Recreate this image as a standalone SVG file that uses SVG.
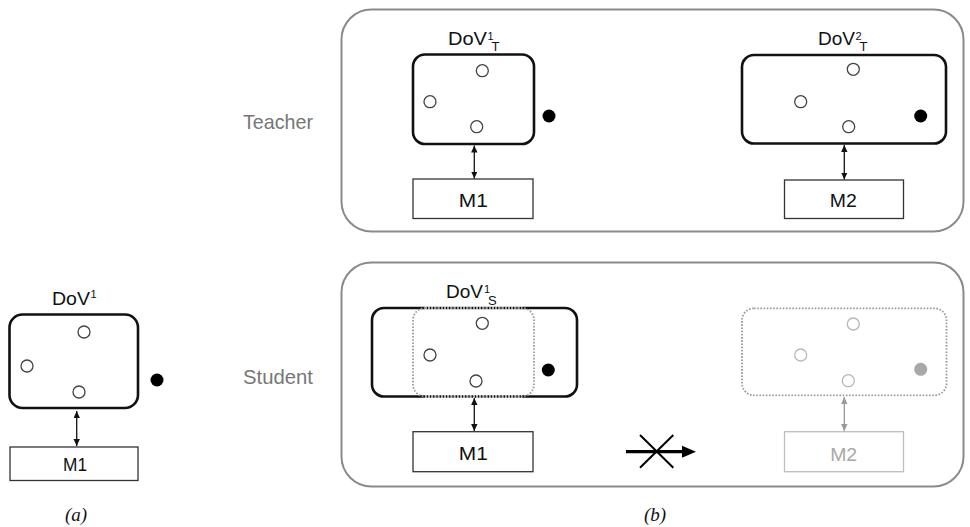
<svg xmlns="http://www.w3.org/2000/svg" width="970" height="527" viewBox="0 0 970 527">
<style>
.bg{fill:#fff}
.outer{fill:none;stroke:#8a8a8a;stroke-width:2}
.dov{fill:none;stroke:#111;stroke-width:2.6}
.gap{fill:none;stroke:#fff;stroke-width:3.2;stroke-dasharray:1.6 1.6}
.dotted{fill:none;stroke:#9a9a9a;stroke-width:1.8;stroke-dasharray:1.6 1.6}
.mbox{fill:#fff;stroke:#333;stroke-width:1.3}
.mbox-g{fill:#fff;stroke:#bdbdbd;stroke-width:1.3}
.pt{fill:#fff;stroke:#444;stroke-width:1.3}
.pt-g{fill:#fff;stroke:#b8b8b8;stroke-width:1.3}
.dot{fill:#000}
.dot-g{fill:#a8a8a8}
.lbl{font-family:"Liberation Sans",Arial,sans-serif;font-size:19px;fill:#111}
.lbl-g{font-family:"Liberation Sans",Arial,sans-serif;font-size:19px;fill:#a8a8a8}
.side{font-family:"Liberation Sans",Arial,sans-serif;font-size:21px;fill:#777}
.cap{font-family:"Liberation Serif","Times New Roman",serif;font-style:italic;font-size:19px;fill:#111}
.conn{stroke:#111;stroke-width:1.3;fill:none}
.conn-g{stroke:#999;stroke-width:1.3;fill:none}
</style>
<defs>
<marker id="ah" markerUnits="userSpaceOnUse" markerWidth="8" markerHeight="7" refX="7" refY="3.2" orient="auto-start-reverse">
<path d="M0,0 L7,3.2 L0,6.4 z" fill="#111"/>
</marker>
<marker id="ah-g" markerUnits="userSpaceOnUse" markerWidth="8" markerHeight="7" refX="7" refY="3.2" orient="auto-start-reverse">
<path d="M0,0 L7,3.2 L0,6.4 z" fill="#999"/>
</marker>
</defs>
<rect class="bg" x="0" y="0" width="970" height="527"/>

<!-- (a) -->
<g id="a-dov1">
<rect class="dov" x="9.5" y="314.5" width="128.5" height="93.5" rx="13"/>
<text class="lbl"><tspan x="52" y="305" textLength="38" lengthAdjust="spacingAndGlyphs">DoV</tspan><tspan x="90.5" y="298" font-size="11">1</tspan></text>
<circle class="pt" cx="84" cy="332" r="6"/>
<circle class="pt" cx="27" cy="366" r="6"/>
<circle class="pt" cx="79" cy="392" r="6"/>
<circle class="dot" cx="157" cy="380" r="6.5"/>
</g>
<g id="a-m1">
<rect class="mbox" x="10" y="447" width="128" height="33.5"/>
<text class="lbl" x="75" y="471" text-anchor="middle" textLength="24" lengthAdjust="spacingAndGlyphs">M1</text>
</g>
<text class="cap" x="76" y="521" text-anchor="middle">(a)</text>

<!-- (b) Teacher -->
<g id="teacher">
<rect class="outer" x="341.5" y="9.5" width="622" height="222" rx="30"/>
<text class="side" x="243" y="129" textLength="70" lengthAdjust="spacingAndGlyphs">Teacher</text>
</g>
<g id="t-dov1">
<rect class="dov" x="413" y="54.5" width="121" height="89.5" rx="12"/>
<text class="lbl"><tspan x="448" y="44.5" textLength="39" lengthAdjust="spacingAndGlyphs">DoV</tspan><tspan x="487.5" y="39.5" font-size="11">1</tspan><tspan x="491.5" y="50.5" font-size="13">T</tspan></text>
<circle class="pt" cx="482.3" cy="70.7" r="6"/>
<circle class="pt" cx="430" cy="101.7" r="6"/>
<circle class="pt" cx="476.7" cy="126.7" r="6"/>
<circle class="dot" cx="549" cy="116" r="6.5"/>
</g>
<g id="t-m1">
<rect class="mbox" x="413" y="179" width="120" height="39.5"/>
<text class="lbl" x="473.3" y="206.7" text-anchor="middle" textLength="29" lengthAdjust="spacingAndGlyphs">M1</text>
</g>
<g id="t-dov2">
<rect class="dov" x="742" y="55" width="204" height="88.5" rx="12"/>
<text class="lbl"><tspan x="818" y="44.5" textLength="37" lengthAdjust="spacingAndGlyphs">DoV</tspan><tspan x="855.5" y="39.5" font-size="11">2</tspan><tspan x="859.5" y="50.5" font-size="13">T</tspan></text>
<circle class="pt" cx="853.3" cy="69.3" r="6"/>
<circle class="pt" cx="800.7" cy="101.7" r="6"/>
<circle class="pt" cx="848.7" cy="126.7" r="6"/>
<circle class="dot" cx="920.7" cy="116" r="6.5"/>
</g>
<g id="t-m2">
<rect class="mbox" x="784.5" y="180" width="119" height="38.5"/>
<text class="lbl" x="843.3" y="206.7" text-anchor="middle" textLength="27" lengthAdjust="spacingAndGlyphs">M2</text>
</g>

<!-- (b) Student -->
<g id="student">
<rect class="outer" x="341.5" y="262.5" width="622" height="224" rx="30"/>
<text class="side" x="243" y="384" textLength="70" lengthAdjust="spacingAndGlyphs">Student</text>
</g>
<g id="s-dov1">
<rect class="dov" x="372" y="308" width="205" height="88.5" rx="12"/>
<line class="gap" x1="425" y1="308" x2="522" y2="308"/>
<line class="gap" x1="425" y1="396.5" x2="522" y2="396.5"/>
<rect class="dotted" x="413" y="308" width="121" height="88.5" rx="12"/>
<text class="lbl"><tspan x="446" y="298" textLength="37" lengthAdjust="spacingAndGlyphs">DoV</tspan><tspan x="484" y="293" font-size="11">1</tspan><tspan x="488" y="304.5" font-size="13">S</tspan></text>
<circle class="pt" cx="482.3" cy="323.3" r="6"/>
<circle class="pt" cx="430" cy="355" r="6"/>
<circle class="pt" cx="476" cy="381" r="6"/>
<circle class="dot" cx="548.3" cy="370" r="6.5"/>
</g>
<g id="s-m1">
<rect class="mbox" x="413" y="431.7" width="120" height="40"/>
<text class="lbl" x="473.3" y="459.7" text-anchor="middle" textLength="29" lengthAdjust="spacingAndGlyphs">M1</text>
</g>
<g id="s-dov2">
<rect class="dotted" x="742" y="308.3" width="204.5" height="87" rx="12"/>
<circle class="pt-g" cx="853.3" cy="324" r="6"/>
<circle class="pt-g" cx="800.7" cy="355" r="6"/>
<circle class="pt-g" cx="848.3" cy="380.7" r="6"/>
<circle class="dot-g" cx="920.7" cy="369.3" r="6.5"/>
</g>
<g id="s-m2">
<rect class="mbox-g" x="784.5" y="431.7" width="119" height="40"/>
<text class="lbl-g" x="843.7" y="460.7" text-anchor="middle" textLength="27" lengthAdjust="spacingAndGlyphs">M2</text>
</g>
<text class="cap" x="655" y="521" text-anchor="middle">(b)</text>

<!-- connectors -->
<g id="connectors">
<line class="conn" x1="76.7" y1="411" x2="76.7" y2="446" marker-start="url(#ah)" marker-end="url(#ah)"/>
<line class="conn" x1="474.3" y1="145.5" x2="474.3" y2="178.5" marker-start="url(#ah)" marker-end="url(#ah)"/>
<line class="conn" x1="844.3" y1="145" x2="844.3" y2="179.5" marker-start="url(#ah)" marker-end="url(#ah)"/>
<line class="conn" x1="474.3" y1="398" x2="474.3" y2="431" marker-start="url(#ah)" marker-end="url(#ah)"/>
<line class="conn-g" x1="844.3" y1="397" x2="844.3" y2="431" marker-start="url(#ah-g)" marker-end="url(#ah-g)"/>
<g id="blocked-arrow">
<line x1="626" y1="451.7" x2="684" y2="451.7" stroke="#000" stroke-width="3.2"/>
<polygon points="682,445.7 696,451.7 682,457.7" fill="#000"/>
<line x1="640" y1="435" x2="673.3" y2="467.7" stroke="#000" stroke-width="2"/>
<line x1="673.3" y1="435" x2="640" y2="467.7" stroke="#000" stroke-width="2"/>
</g>
</g>
</svg>
